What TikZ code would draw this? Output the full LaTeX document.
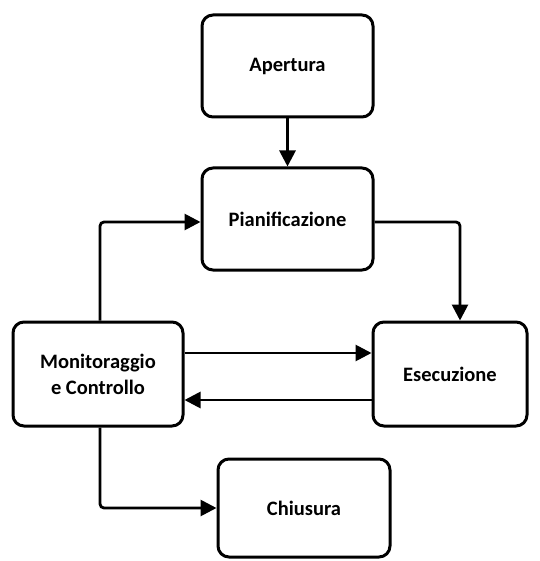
\documentclass[tikz,border=0pt]{standalone}
\usepackage{fontspec}
\setmainfont{Carlito}
\usetikzlibrary{arrows.meta}
\begin{document}
\begin{tikzpicture}[x=1pt,y=-1pt,
  phase/.style={draw, line width=3pt, rounded corners=11pt, fill=white,
    align=center, font=\bfseries\fontsize{20.5}{26}\selectfont, inner sep=0pt},
  flow/.style={line width=2.8pt, -{Triangle[length=16pt,width=16pt]}, rounded corners=4pt}]
  \useasboundingbox (0,0) rectangle (539,561);
  \node[phase, minimum width=171pt, minimum height=102pt] (ap) at (287.5,66) {Apertura};
  \node[phase, minimum width=171pt, minimum height=102pt] (pi) at (287.5,219) {Pianificazione};
  \node[phase, minimum width=170pt, minimum height=104pt] (mc) at (98,374) {Monitoraggio\\e Controllo};
  \node[phase, minimum width=154pt, minimum height=104pt] (es) at (450,374) {Esecuzione};
  \node[phase, minimum width=172pt, minimum height=98pt] (ch) at (304,508) {Chiusura};
  \draw[flow] (ap.south) -- (pi.north);
  \draw[flow] (pi.east |- 0,222) -| (es.north -| 460,0);
  \draw[flow] (mc.north -| 100,0) |- (pi.west |- 0,222);
  \draw[flow] (mc.east |- 0,353) -- (es.west |- 0,353);
  \draw[flow] (es.west |- 0,400) -- (mc.east |- 0,400);
  \draw[flow] (mc.south -| 100,0) |- (ch.west);
\end{tikzpicture}
\end{document}
